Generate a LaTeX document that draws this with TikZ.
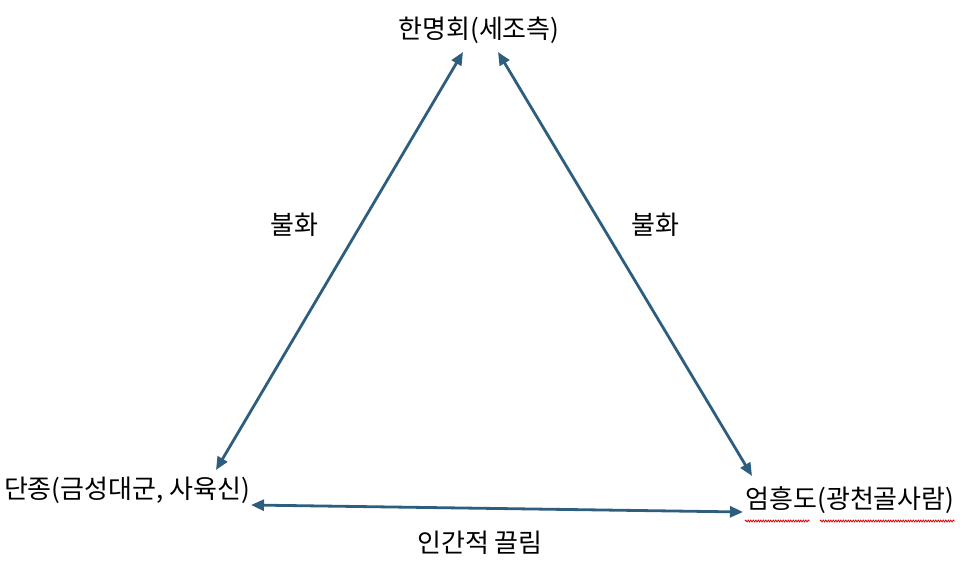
\documentclass[tikz,border=0pt]{standalone}
\usepackage{fontspec}
\setmainfont{Noto Sans CJK KR}
\usetikzlibrary{arrows.meta, decorations.pathmorphing}
\definecolor{steel}{RGB}{46,94,126}
\tikzstyle{who}=[inner sep = 0pt, font = \fontsize{26}{30}\selectfont]
\tikzstyle{tie}=[inner sep = 0pt, font = \fontsize{26}{30}\selectfont]
\tikzstyle{rel}=[draw = steel, line width = 2.8pt, {Triangle[length=13pt,width=11pt]}-{Triangle[length=13pt,width=11pt]}]
\tikzstyle{typo}=[draw = red!85!black, line width = .8pt, decorate, decoration = {snake, amplitude = .9pt, segment length = 2.5pt}]

\begin{document}
\begin{tikzpicture}[x = 1pt, y = -1pt]
  \useasboundingbox (0,0) rectangle (960,569);
  \node[who] (hmh) at (479,30) {한명회(세조측)};
  \node[who] (dj) at (127,490) {단종(금성대군, 사육신)};
  \node[who] (ehd) at (850,500) {엄흥도(광천골사람)};
  \node[tie] (fight-l) at (294,225) {불화};
  \node[tie] (fight-r) at (655,225) {불화};
  \node[tie] (pull) at (480,543) {인간적 끌림};
  \coordinate (hmh-l) at (463,52);
  \coordinate (hmh-r) at (498,52);
  \coordinate (dj-t) at (216,470);
  \coordinate (dj-r) at (251,505);
  \coordinate (ehd-t) at (752,476);
  \coordinate (ehd-l) at (743,512);
  \draw[rel] (hmh-l) -- (dj-t);
  \draw[rel] (hmh-r) -- (ehd-t);
  \draw[rel] (dj-r) -- (ehd-l);
  % spell check marks
  \draw[typo] (745,521) -- (810,521);
  \draw[typo] (820,521) -- (955,521);
\end{tikzpicture}
\end{document}
